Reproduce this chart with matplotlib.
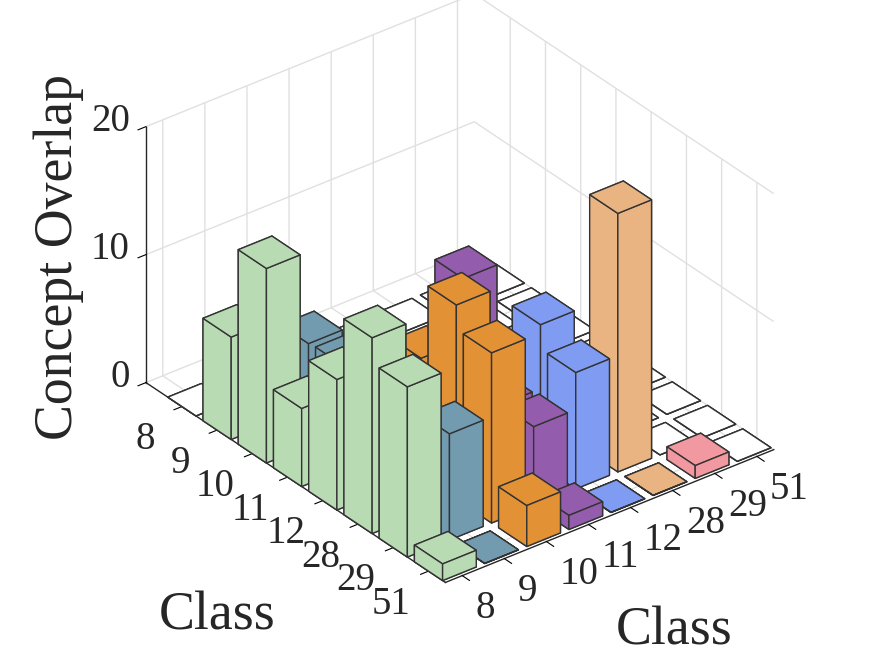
import numpy as np
import matplotlib
matplotlib.use('Agg')
import matplotlib.pyplot as plt
from mpl_toolkits.mplot3d import proj3d

plt.rcParams['font.family'] = ['Liberation Serif', 'DejaVu Serif']
plt.rcParams['grid.color'] = '#e0e0e0'
plt.rcParams['grid.linewidth'] = 1.0

# class labels, same on both floor axes
classes = ['8', '9', '10', '11', '12', '28', '29', '51']
z_ticks = [0, 10, 20]

# values, one list per colour column
# 0 means an empty white cell, 0.01 a flat coloured one
col_8 = [0, 8.0, 15.2, 6.1, 10.2, 15.3, 13.3, 1.3]
col_9 = [0, 0, 8.0, 8.1, 0, 0, 8.3, 0.01]
col_10 = [0, 0, 0, 0, 9.2, 15.2, 13.3, 3.2]
col_11 = [0, 0, 0, 0, 14.1, 6.0, 6.2, 1.1]
col_12 = [0, 0, 0, 0, 0, 11.0, 9.1, 0.01]
col_28 = [0, 0, 0, 0, 0, 0, 20.2, 0.01]
col_29 = [0, 0, 0, 0, 0, 0, 0, 1.0]
col_51 = [0, 0, 0, 0, 0, 0, 0, 0]
columns = [col_8, col_9, col_10, col_11, col_12, col_28, col_29, col_51]
colors = ['#b8dbb3', '#729baf', '#e29135', '#945cad', '#7f9bf2', '#e9b482', '#f298a0', '#ffffff']

bar_w = 0.8
edge = '#333333'
txt = '#262626'
xlim = (-1.02, 7.48)
ylim = (-0.4, 7.4)

fig = plt.figure(figsize=(8.75, 6.56), dpi=100)
s = 656
ax = fig.add_axes([123 / 875, 31 / 656, s / 875, s / 656], projection='3d', proj_type='ortho',
                  computed_zorder=False)
ax.view_init(elev=31.3, azim=-37.9)
ax.set_box_aspect((485, 414, 298), zoom=1.047)
ax.patch.set_alpha(0)

# back to front so the bars overlap properly
k = 10
for i in range(8):
    for j in range(7, -1, -1):
        v = columns[j][i]
        c = colors[j] if v > 0 else 'white'
        ax.bar3d(i - bar_w / 2, j - bar_w / 2, 0, bar_w, bar_w, v, color=c, edgecolor=edge,
                 linewidth=1.0, shade=False, zorder=k)
        k += 1

ax.set_xlim(*xlim, view_margin=0)
ax.set_ylim(*ylim, view_margin=0)
ax.set_zlim(0, 20, view_margin=0)
ax.set_xticks(range(8))
ax.set_yticks(range(8))
ax.set_zticks(z_ticks)
ax.set_xticklabels([])
ax.set_yticklabels([])
ax.set_zticklabels([])
ax.zaxis.set_ticks_position('lower')

for axis in (ax.xaxis, ax.yaxis, ax.zaxis):
    axis.set_pane_color((1, 1, 1, 0))
    axis.pane.set_edgecolor((1, 1, 1, 0))
    axis.line.set_color(txt)
    axis.line.set_linewidth(1.0)
    axis._axinfo['tick']['inward_factor'] = 0.3
    axis._axinfo['tick']['outward_factor'] = 0
    axis._axinfo['tick']['linewidth'] = {True: 0.8, False: 0.8}
    axis._axinfo['tick']['color'] = txt


# tick labels by hand, mplot3d only moves its own along one direction
def label3d(x, y, z, name, ha):
    x2, y2, _ = proj3d.proj_transform(x, y, z, ax.get_proj())
    ax.text2D(x2, y2, name, transform=ax.transData, fontsize=28, color=txt, ha=ha, va='center', zorder=200)


for i, name in enumerate(classes):
    label3d(i + 0.06, ylim[0] - 0.93, -1.25, name, 'center')
    label3d(xlim[1] + 0.37, i, -1.87, name, 'left')
for t in z_ticks:
    label3d(xlim[0] - 0.456, ylim[0], t - 0.44, str(t), 'right')

fig.text(217 / 875, 1 - 616 / 656, 'Class', fontsize=38.7, color=txt, ha='center', va='center')
fig.text(674 / 875, 1 - 631 / 656, 'Class', fontsize=38.7, color=txt, ha='center', va='center')
fig.text(59 / 875, 1 - 257 / 656, 'Concept Overlap', fontsize=38.7, color=txt, rotation=90,
         ha='center', va='center')

fig.savefig('out.png', dpi=100)
